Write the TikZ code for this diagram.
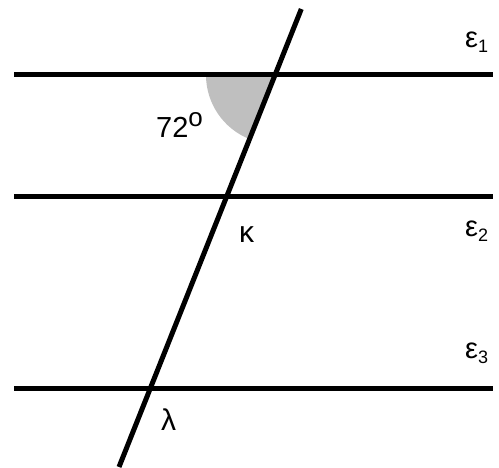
\documentclass[tikz,border=0pt]{standalone}
\usepackage{fontspec}
\setmainfont{Liberation Sans}
\usetikzlibrary{calc}
\tikzset{
  parline/.style={line width=5pt},
  transline/.style={line width=5pt},
  anglewedge/.style={fill=black!25},
  greeklbl/.style={anchor=base west,inner sep=0pt,font=\fontsize{29}{29}\selectfont},
  pointlbl/.style={anchor=base west,inner sep=0pt,font=\fontsize{30}{30}\selectfont},
  anglelbl/.style={anchor=base west,inner sep=0pt,font=\fontsize{29}{29}\selectfont}
}
\newcommand{\lowidx}[1]{\raisebox{-5pt}{\fontsize{18}{18}\selectfont #1}}
\newcommand{\highidx}[1]{\raisebox{11pt}{\fontsize{26}{26}\selectfont #1}}

\begin{document}
\begin{tikzpicture}[x=1pt,y=1pt]
  \useasboundingbox (0,0) rectangle (499,468);
  % intersections of the transversal with the parallels
  \coordinate (top) at (275,393);
  \coordinate (kap) at (226.4,271);
  \coordinate (lam) at (150,79);
  \coordinate (tEnd) at (301.3,459);
  \coordinate (bEnd) at (119,1);

  % shaded angle
  \fill[anglewedge] (top) -- ++(180:69) arc (180:248.3:69) -- cycle;

  % three parallels
  \foreach \yy/\nm in {393/e1,271/e2,79/e3}{
    \coordinate (\nm L) at (14,\yy);
    \coordinate (\nm R) at (493,\yy);
    \draw[parline] (\nm L) -- (\nm R);
  }

  % transversal
  \draw[transline] (bEnd) -- (tEnd);

  % labels
  \node[anglelbl] (ang) at (156,330) {72\highidx{o}};
  \node[greeklbl] (eps1) at (465,420) {ε\lowidx{1}};
  \node[greeklbl] (eps2) at (465,231) {ε\lowidx{2}};
  \node[greeklbl] (eps3) at (465,109) {ε\lowidx{3}};
  \node[pointlbl] (kapl) at (239,225) {κ};
  \node[pointlbl] (laml) at (161,37) {λ};
\end{tikzpicture}
\end{document}
